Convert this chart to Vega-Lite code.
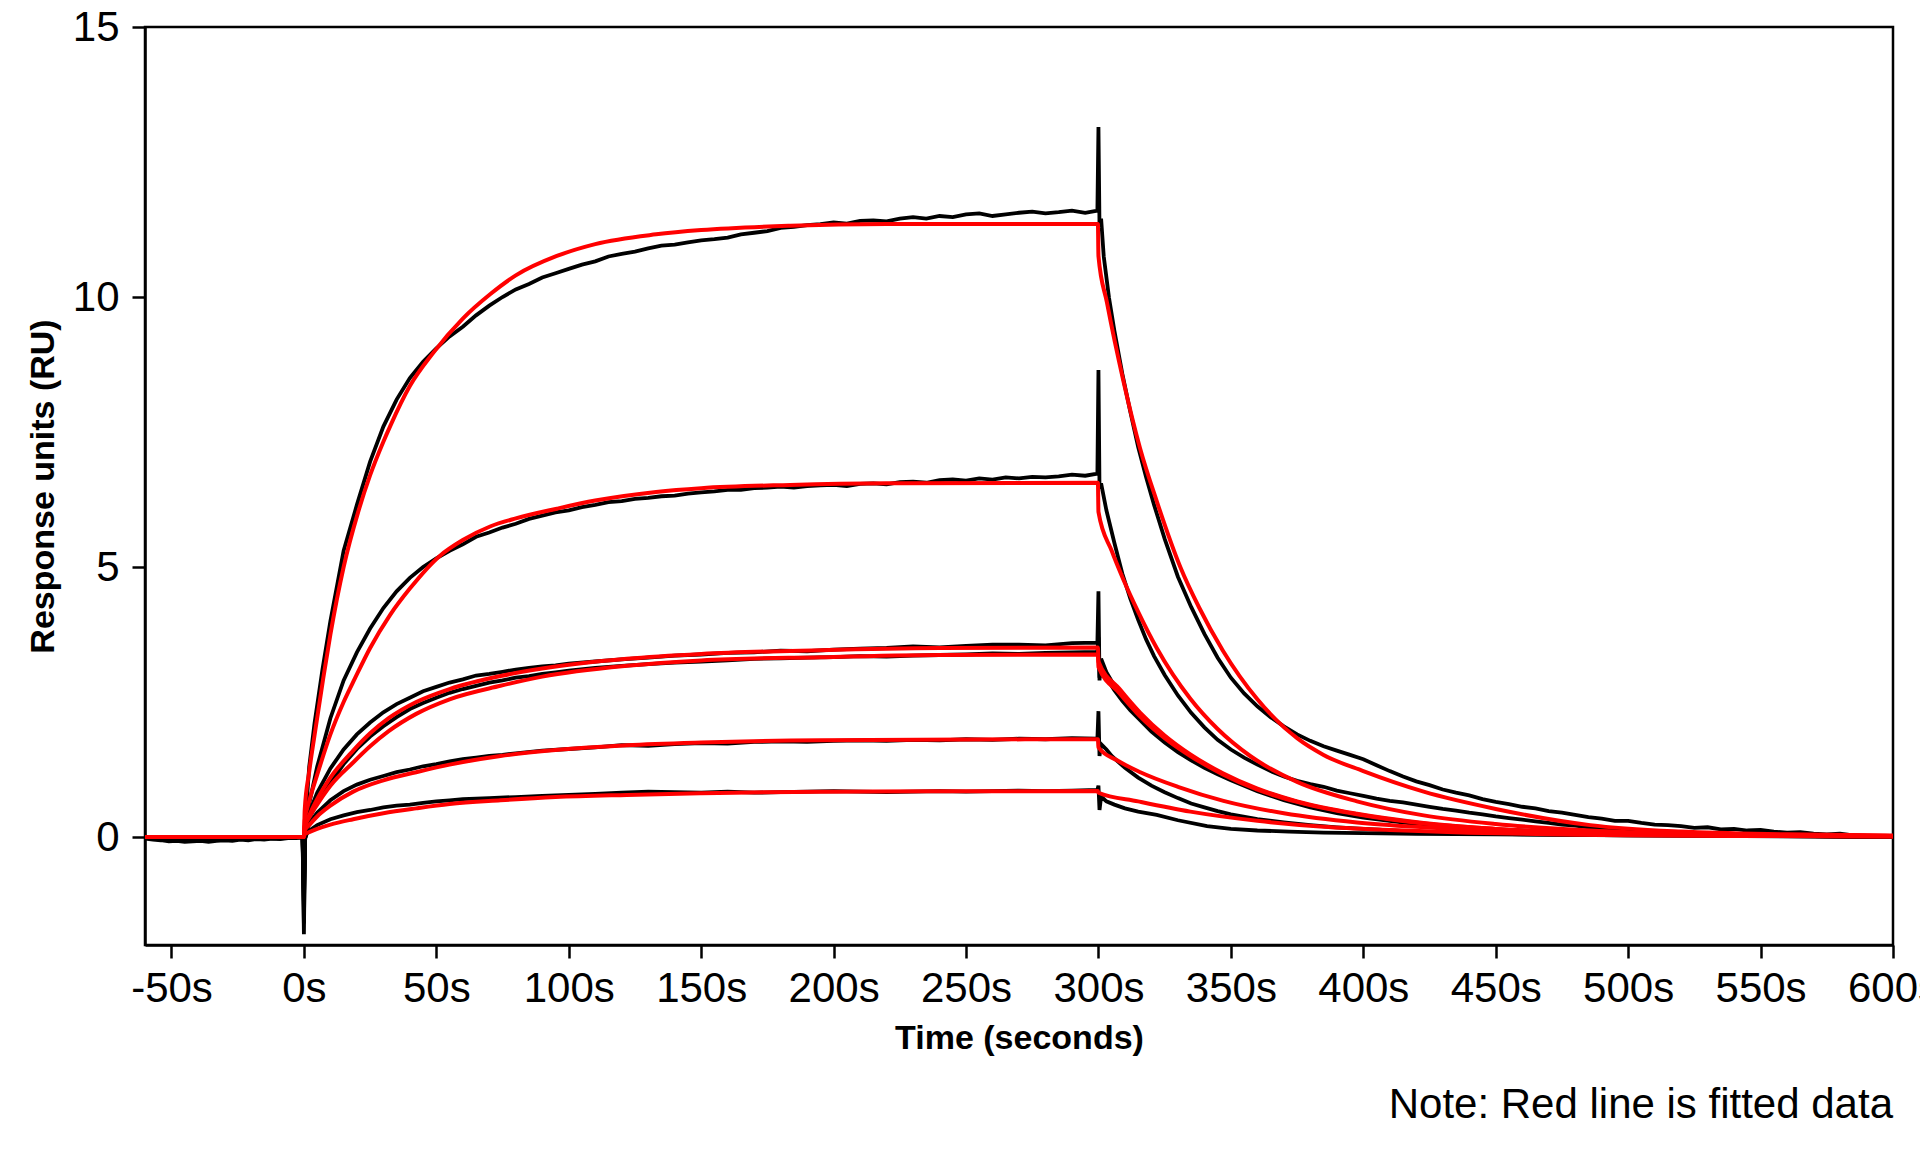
{
  "$schema": "https://vega.github.io/schema/vega-lite/v6.json",
  "width": 1748,
  "height": 918,
  "autosize": {"type": "none"},
  "padding": {"left": 145, "top": 27, "right": 27, "bottom": 207},
  "background": "white",
  "title": {
    "text": "Note: Red line is fitted data",
    "orient": "bottom",
    "anchor": "end",
    "frame": "group",
    "font": "Liberation Sans",
    "fontSize": 42,
    "fontWeight": "normal",
    "color": "black",
    "offset": 30
  },
  "datasets": {
    "obs": [
      {"c":"A","t":-60,"v":-0.03},{"c":"A","t":-57,"v":-0.05},{"c":"A","t":-54,"v":-0.06},{"c":"A","t":-51,"v":-0.08},{"c":"A","t":-48,"v":-0.07},{"c":"A","t":-45,"v":-0.09},{"c":"A","t":-42,"v":-0.08},{"c":"A","t":-39,"v":-0.07},{"c":"A","t":-36,"v":-0.09},{"c":"A","t":-33,"v":-0.07},{"c":"A","t":-30,"v":-0.06},{"c":"A","t":-27,"v":-0.07},{"c":"A","t":-24,"v":-0.05},{"c":"A","t":-21,"v":-0.06},{"c":"A","t":-18,"v":-0.04},{"c":"A","t":-15,"v":-0.05},{"c":"A","t":-12,"v":-0.03},{"c":"A","t":-9,"v":-0.04},{"c":"A","t":-6,"v":-0.02},{"c":"A","t":-3,"v":-0.02},{"c":"A","t":-0.5,"v":-0.01},{"c":"A","t":0,"v":-1.8},{"c":"A","t":0.4,"v":-0.1},{"c":"A","t":1,"v":0.6},{"c":"A","t":2,"v":1.3},{"c":"A","t":4,"v":2.1},{"c":"A","t":7,"v":3.1},{"c":"A","t":10,"v":4.0},{"c":"A","t":15,"v":5.3},{"c":"A","t":20,"v":6.15},{"c":"A","t":25,"v":6.95},{"c":"A","t":30,"v":7.6},{"c":"A","t":35,"v":8.1},{"c":"A","t":40,"v":8.5},{"c":"A","t":45,"v":8.8},{"c":"A","t":50,"v":9.05},{"c":"A","t":55,"v":9.27},{"c":"A","t":60,"v":9.45},{"c":"A","t":65,"v":9.66},{"c":"A","t":70,"v":9.84},{"c":"A","t":75,"v":10.0},{"c":"A","t":80,"v":10.14},{"c":"A","t":85,"v":10.24},{"c":"A","t":90,"v":10.36},{"c":"A","t":95,"v":10.44},{"c":"A","t":100,"v":10.52},{"c":"A","t":105,"v":10.6},{"c":"A","t":110,"v":10.66},{"c":"A","t":115,"v":10.75},{"c":"A","t":120,"v":10.8},{"c":"A","t":125,"v":10.84},{"c":"A","t":130,"v":10.9},{"c":"A","t":135,"v":10.95},{"c":"A","t":140,"v":10.97},{"c":"A","t":145,"v":11.01},{"c":"A","t":150,"v":11.05},{"c":"A","t":155,"v":11.07},{"c":"A","t":160,"v":11.1},{"c":"A","t":165,"v":11.16},{"c":"A","t":170,"v":11.19},{"c":"A","t":175,"v":11.22},{"c":"A","t":180,"v":11.28},{"c":"A","t":185,"v":11.3},{"c":"A","t":190,"v":11.33},{"c":"A","t":195,"v":11.35},{"c":"A","t":200,"v":11.38},{"c":"A","t":205,"v":11.36},{"c":"A","t":210,"v":11.41},{"c":"A","t":215,"v":11.42},{"c":"A","t":220,"v":11.4},{"c":"A","t":225,"v":11.45},{"c":"A","t":230,"v":11.48},{"c":"A","t":235,"v":11.45},{"c":"A","t":240,"v":11.5},{"c":"A","t":245,"v":11.48},{"c":"A","t":250,"v":11.53},{"c":"A","t":255,"v":11.55},{"c":"A","t":260,"v":11.5},{"c":"A","t":265,"v":11.53},{"c":"A","t":270,"v":11.56},{"c":"A","t":275,"v":11.58},{"c":"A","t":280,"v":11.55},{"c":"A","t":285,"v":11.57},{"c":"A","t":290,"v":11.6},{"c":"A","t":295,"v":11.56},{"c":"A","t":299.6,"v":11.6},{"c":"A","t":300,"v":13.15},{"c":"A","t":300.4,"v":11.3},{"c":"A","t":301,"v":11.45},{"c":"A","t":302,"v":10.75},{"c":"A","t":304,"v":9.98},{"c":"A","t":306,"v":9.38},{"c":"A","t":309,"v":8.58},{"c":"A","t":312,"v":7.88},{"c":"A","t":315,"v":7.22},{"c":"A","t":318,"v":6.66},{"c":"A","t":321,"v":6.15},{"c":"A","t":325,"v":5.52},{"c":"A","t":330,"v":4.82},{"c":"A","t":335,"v":4.26},{"c":"A","t":340,"v":3.76},{"c":"A","t":345,"v":3.32},{"c":"A","t":350,"v":2.95},{"c":"A","t":355,"v":2.66},{"c":"A","t":360,"v":2.42},{"c":"A","t":365,"v":2.22},{"c":"A","t":370,"v":2.05},{"c":"A","t":375,"v":1.9},{"c":"A","t":380,"v":1.78},{"c":"A","t":385,"v":1.68},{"c":"A","t":390,"v":1.6},{"c":"A","t":395,"v":1.52},{"c":"A","t":400,"v":1.44},{"c":"A","t":405,"v":1.33},{"c":"A","t":410,"v":1.22},{"c":"A","t":415,"v":1.12},{"c":"A","t":420,"v":1.03},{"c":"A","t":425,"v":0.96},{"c":"A","t":430,"v":0.88},{"c":"A","t":435,"v":0.82},{"c":"A","t":440,"v":0.77},{"c":"A","t":445,"v":0.7},{"c":"A","t":450,"v":0.65},{"c":"A","t":455,"v":0.61},{"c":"A","t":460,"v":0.56},{"c":"A","t":465,"v":0.53},{"c":"A","t":470,"v":0.48},{"c":"A","t":475,"v":0.45},{"c":"A","t":480,"v":0.41},{"c":"A","t":485,"v":0.37},{"c":"A","t":490,"v":0.34},{"c":"A","t":495,"v":0.3},{"c":"A","t":500,"v":0.3},{"c":"A","t":505,"v":0.26},{"c":"A","t":510,"v":0.23},{"c":"A","t":515,"v":0.22},{"c":"A","t":520,"v":0.2},{"c":"A","t":525,"v":0.17},{"c":"A","t":530,"v":0.18},{"c":"A","t":535,"v":0.14},{"c":"A","t":540,"v":0.15},{"c":"A","t":545,"v":0.12},{"c":"A","t":550,"v":0.13},{"c":"A","t":555,"v":0.1},{"c":"A","t":560,"v":0.08},{"c":"A","t":565,"v":0.09},{"c":"A","t":570,"v":0.06},{"c":"A","t":575,"v":0.05},{"c":"A","t":580,"v":0.06},{"c":"A","t":585,"v":0.03},{"c":"A","t":590,"v":0.02},{"c":"A","t":595,"v":0.02},{"c":"A","t":600,"v":0.0},

      {"c":"B","t":-60,"v":-0.01},{"c":"B","t":-55,"v":-0.03},{"c":"B","t":-50,"v":-0.05},{"c":"B","t":-45,"v":-0.04},{"c":"B","t":-40,"v":-0.06},{"c":"B","t":-35,"v":-0.04},{"c":"B","t":-30,"v":-0.05},{"c":"B","t":-25,"v":-0.03},{"c":"B","t":-20,"v":-0.04},{"c":"B","t":-15,"v":-0.02},{"c":"B","t":-10,"v":-0.03},{"c":"B","t":-5,"v":-0.01},{"c":"B","t":-0.5,"v":0.0},{"c":"B","t":0,"v":-1.6},{"c":"B","t":0.4,"v":-0.1},{"c":"B","t":1,"v":0.3},{"c":"B","t":2,"v":0.62},{"c":"B","t":5,"v":1.3},{"c":"B","t":10,"v":2.2},{"c":"B","t":15,"v":2.9},{"c":"B","t":20,"v":3.42},{"c":"B","t":25,"v":3.86},{"c":"B","t":30,"v":4.24},{"c":"B","t":35,"v":4.55},{"c":"B","t":40,"v":4.8},{"c":"B","t":45,"v":5.0},{"c":"B","t":50,"v":5.16},{"c":"B","t":55,"v":5.3},{"c":"B","t":60,"v":5.42},{"c":"B","t":65,"v":5.56},{"c":"B","t":70,"v":5.64},{"c":"B","t":75,"v":5.73},{"c":"B","t":80,"v":5.8},{"c":"B","t":85,"v":5.89},{"c":"B","t":90,"v":5.95},{"c":"B","t":95,"v":6.01},{"c":"B","t":100,"v":6.05},{"c":"B","t":105,"v":6.11},{"c":"B","t":110,"v":6.15},{"c":"B","t":115,"v":6.2},{"c":"B","t":120,"v":6.22},{"c":"B","t":125,"v":6.26},{"c":"B","t":130,"v":6.28},{"c":"B","t":135,"v":6.31},{"c":"B","t":140,"v":6.32},{"c":"B","t":145,"v":6.36},{"c":"B","t":150,"v":6.38},{"c":"B","t":155,"v":6.4},{"c":"B","t":160,"v":6.43},{"c":"B","t":165,"v":6.43},{"c":"B","t":170,"v":6.46},{"c":"B","t":175,"v":6.47},{"c":"B","t":180,"v":6.49},{"c":"B","t":185,"v":6.47},{"c":"B","t":190,"v":6.5},{"c":"B","t":195,"v":6.51},{"c":"B","t":200,"v":6.52},{"c":"B","t":205,"v":6.5},{"c":"B","t":210,"v":6.54},{"c":"B","t":215,"v":6.55},{"c":"B","t":220,"v":6.53},{"c":"B","t":225,"v":6.57},{"c":"B","t":230,"v":6.58},{"c":"B","t":235,"v":6.56},{"c":"B","t":240,"v":6.61},{"c":"B","t":245,"v":6.62},{"c":"B","t":250,"v":6.6},{"c":"B","t":255,"v":6.64},{"c":"B","t":260,"v":6.62},{"c":"B","t":265,"v":6.66},{"c":"B","t":270,"v":6.64},{"c":"B","t":275,"v":6.67},{"c":"B","t":280,"v":6.66},{"c":"B","t":285,"v":6.68},{"c":"B","t":290,"v":6.71},{"c":"B","t":295,"v":6.69},{"c":"B","t":299.6,"v":6.73},{"c":"B","t":300,"v":8.65},{"c":"B","t":300.4,"v":6.45},{"c":"B","t":301,"v":6.55},{"c":"B","t":303,"v":6.05},{"c":"B","t":306,"v":5.45},{"c":"B","t":309,"v":4.88},{"c":"B","t":312,"v":4.42},{"c":"B","t":315,"v":4.02},{"c":"B","t":318,"v":3.66},{"c":"B","t":321,"v":3.35},{"c":"B","t":325,"v":3.0},{"c":"B","t":330,"v":2.62},{"c":"B","t":335,"v":2.3},{"c":"B","t":340,"v":2.03},{"c":"B","t":345,"v":1.8},{"c":"B","t":350,"v":1.62},{"c":"B","t":355,"v":1.47},{"c":"B","t":360,"v":1.34},{"c":"B","t":365,"v":1.22},{"c":"B","t":370,"v":1.12},{"c":"B","t":375,"v":1.04},{"c":"B","t":380,"v":0.98},{"c":"B","t":385,"v":0.93},{"c":"B","t":390,"v":0.86},{"c":"B","t":395,"v":0.81},{"c":"B","t":400,"v":0.76},{"c":"B","t":405,"v":0.71},{"c":"B","t":410,"v":0.67},{"c":"B","t":415,"v":0.64},{"c":"B","t":420,"v":0.6},{"c":"B","t":425,"v":0.56},{"c":"B","t":430,"v":0.52},{"c":"B","t":435,"v":0.49},{"c":"B","t":440,"v":0.45},{"c":"B","t":445,"v":0.42},{"c":"B","t":450,"v":0.38},{"c":"B","t":455,"v":0.35},{"c":"B","t":460,"v":0.32},{"c":"B","t":465,"v":0.29},{"c":"B","t":470,"v":0.26},{"c":"B","t":475,"v":0.23},{"c":"B","t":480,"v":0.21},{"c":"B","t":485,"v":0.18},{"c":"B","t":490,"v":0.16},{"c":"B","t":500,"v":0.13},{"c":"B","t":510,"v":0.1},{"c":"B","t":520,"v":0.09},{"c":"B","t":530,"v":0.06},{"c":"B","t":540,"v":0.05},{"c":"B","t":550,"v":0.05},{"c":"B","t":560,"v":0.03},{"c":"B","t":570,"v":0.03},{"c":"B","t":580,"v":0.02},{"c":"B","t":590,"v":0.01},{"c":"B","t":600,"v":0.0},

      {"c":"C","t":-0.5,"v":0.0},{"c":"C","t":0,"v":-1.3},{"c":"C","t":0.4,"v":-0.05},{"c":"C","t":1,"v":0.2},{"c":"C","t":2,"v":0.45},{"c":"C","t":5,"v":0.82},{"c":"C","t":10,"v":1.27},{"c":"C","t":15,"v":1.62},{"c":"C","t":20,"v":1.9},{"c":"C","t":25,"v":2.12},{"c":"C","t":30,"v":2.31},{"c":"C","t":35,"v":2.46},{"c":"C","t":40,"v":2.58},{"c":"C","t":45,"v":2.7},{"c":"C","t":50,"v":2.78},{"c":"C","t":55,"v":2.86},{"c":"C","t":60,"v":2.92},{"c":"C","t":65,"v":2.99},{"c":"C","t":70,"v":3.02},{"c":"C","t":75,"v":3.06},{"c":"C","t":80,"v":3.1},{"c":"C","t":85,"v":3.13},{"c":"C","t":90,"v":3.16},{"c":"C","t":95,"v":3.18},{"c":"C","t":100,"v":3.21},{"c":"C","t":110,"v":3.25},{"c":"C","t":120,"v":3.29},{"c":"C","t":130,"v":3.32},{"c":"C","t":140,"v":3.36},{"c":"C","t":150,"v":3.38},{"c":"C","t":160,"v":3.41},{"c":"C","t":170,"v":3.42},{"c":"C","t":180,"v":3.45},{"c":"C","t":190,"v":3.44},{"c":"C","t":200,"v":3.47},{"c":"C","t":210,"v":3.49},{"c":"C","t":220,"v":3.5},{"c":"C","t":230,"v":3.53},{"c":"C","t":240,"v":3.51},{"c":"C","t":250,"v":3.54},{"c":"C","t":260,"v":3.56},{"c":"C","t":270,"v":3.56},{"c":"C","t":280,"v":3.55},{"c":"C","t":290,"v":3.59},{"c":"C","t":299.6,"v":3.6},{"c":"C","t":300,"v":4.55},{"c":"C","t":300.4,"v":2.9},{"c":"C","t":301,"v":3.3},{"c":"C","t":303,"v":3.05},{"c":"C","t":306,"v":2.8},{"c":"C","t":309,"v":2.6},{"c":"C","t":312,"v":2.42},{"c":"C","t":315,"v":2.27},{"c":"C","t":320,"v":2.0},{"c":"C","t":325,"v":1.8},{"c":"C","t":330,"v":1.62},{"c":"C","t":335,"v":1.47},{"c":"C","t":340,"v":1.33},{"c":"C","t":345,"v":1.2},{"c":"C","t":350,"v":1.08},{"c":"C","t":355,"v":0.98},{"c":"C","t":360,"v":0.88},{"c":"C","t":370,"v":0.72},{"c":"C","t":380,"v":0.58},{"c":"C","t":390,"v":0.47},{"c":"C","t":400,"v":0.38},{"c":"C","t":410,"v":0.31},{"c":"C","t":420,"v":0.26},{"c":"C","t":430,"v":0.21},{"c":"C","t":440,"v":0.17},{"c":"C","t":450,"v":0.14},{"c":"C","t":460,"v":0.12},{"c":"C","t":470,"v":0.1},{"c":"C","t":480,"v":0.08},{"c":"C","t":500,"v":0.06},{"c":"C","t":520,"v":0.05},{"c":"C","t":540,"v":0.03},{"c":"C","t":560,"v":0.02},{"c":"C","t":580,"v":0.01},{"c":"C","t":600,"v":0.0},

      {"c":"D","t":-0.5,"v":0.0},{"c":"D","t":0,"v":-1.2},{"c":"D","t":0.4,"v":-0.05},{"c":"D","t":1,"v":0.15},{"c":"D","t":2,"v":0.35},{"c":"D","t":5,"v":0.63},{"c":"D","t":10,"v":1.0},{"c":"D","t":15,"v":1.35},{"c":"D","t":20,"v":1.63},{"c":"D","t":25,"v":1.86},{"c":"D","t":30,"v":2.05},{"c":"D","t":35,"v":2.22},{"c":"D","t":40,"v":2.37},{"c":"D","t":45,"v":2.48},{"c":"D","t":50,"v":2.58},{"c":"D","t":55,"v":2.67},{"c":"D","t":60,"v":2.74},{"c":"D","t":65,"v":2.8},{"c":"D","t":70,"v":2.86},{"c":"D","t":75,"v":2.9},{"c":"D","t":80,"v":2.95},{"c":"D","t":85,"v":2.98},{"c":"D","t":90,"v":3.02},{"c":"D","t":95,"v":3.05},{"c":"D","t":100,"v":3.08},{"c":"D","t":110,"v":3.13},{"c":"D","t":120,"v":3.17},{"c":"D","t":130,"v":3.2},{"c":"D","t":140,"v":3.23},{"c":"D","t":150,"v":3.25},{"c":"D","t":160,"v":3.27},{"c":"D","t":170,"v":3.3},{"c":"D","t":180,"v":3.31},{"c":"D","t":190,"v":3.32},{"c":"D","t":200,"v":3.33},{"c":"D","t":210,"v":3.35},{"c":"D","t":220,"v":3.34},{"c":"D","t":230,"v":3.36},{"c":"D","t":240,"v":3.37},{"c":"D","t":250,"v":3.38},{"c":"D","t":260,"v":3.4},{"c":"D","t":270,"v":3.39},{"c":"D","t":280,"v":3.41},{"c":"D","t":290,"v":3.42},{"c":"D","t":299.6,"v":3.43},{"c":"D","t":300,"v":3.7},{"c":"D","t":300.4,"v":2.95},{"c":"D","t":301,"v":3.15},{"c":"D","t":303,"v":2.95},{"c":"D","t":306,"v":2.72},{"c":"D","t":309,"v":2.52},{"c":"D","t":312,"v":2.35},{"c":"D","t":315,"v":2.2},{"c":"D","t":320,"v":1.95},{"c":"D","t":325,"v":1.75},{"c":"D","t":330,"v":1.57},{"c":"D","t":335,"v":1.42},{"c":"D","t":340,"v":1.28},{"c":"D","t":345,"v":1.16},{"c":"D","t":350,"v":1.05},{"c":"D","t":355,"v":0.95},{"c":"D","t":360,"v":0.85},{"c":"D","t":370,"v":0.68},{"c":"D","t":380,"v":0.55},{"c":"D","t":390,"v":0.44},{"c":"D","t":400,"v":0.36},{"c":"D","t":410,"v":0.3},{"c":"D","t":420,"v":0.24},{"c":"D","t":430,"v":0.2},{"c":"D","t":440,"v":0.16},{"c":"D","t":450,"v":0.13},{"c":"D","t":460,"v":0.11},{"c":"D","t":470,"v":0.09},{"c":"D","t":480,"v":0.07},{"c":"D","t":500,"v":0.05},{"c":"D","t":520,"v":0.04},{"c":"D","t":540,"v":0.03},{"c":"D","t":560,"v":0.02},{"c":"D","t":580,"v":0.01},{"c":"D","t":600,"v":0.0},

      {"c":"E","t":-0.5,"v":0.0},{"c":"E","t":0,"v":-1.0},{"c":"E","t":0.4,"v":-0.03},{"c":"E","t":1,"v":0.1},{"c":"E","t":2,"v":0.25},{"c":"E","t":5,"v":0.45},{"c":"E","t":10,"v":0.68},{"c":"E","t":15,"v":0.85},{"c":"E","t":20,"v":0.97},{"c":"E","t":25,"v":1.06},{"c":"E","t":30,"v":1.13},{"c":"E","t":35,"v":1.2},{"c":"E","t":40,"v":1.25},{"c":"E","t":45,"v":1.31},{"c":"E","t":50,"v":1.35},{"c":"E","t":55,"v":1.4},{"c":"E","t":60,"v":1.44},{"c":"E","t":65,"v":1.47},{"c":"E","t":70,"v":1.5},{"c":"E","t":75,"v":1.52},{"c":"E","t":80,"v":1.55},{"c":"E","t":90,"v":1.6},{"c":"E","t":100,"v":1.63},{"c":"E","t":110,"v":1.66},{"c":"E","t":120,"v":1.7},{"c":"E","t":130,"v":1.69},{"c":"E","t":140,"v":1.72},{"c":"E","t":150,"v":1.74},{"c":"E","t":160,"v":1.73},{"c":"E","t":170,"v":1.76},{"c":"E","t":180,"v":1.77},{"c":"E","t":190,"v":1.76},{"c":"E","t":200,"v":1.78},{"c":"E","t":210,"v":1.79},{"c":"E","t":220,"v":1.78},{"c":"E","t":230,"v":1.8},{"c":"E","t":240,"v":1.79},{"c":"E","t":250,"v":1.81},{"c":"E","t":260,"v":1.8},{"c":"E","t":270,"v":1.82},{"c":"E","t":280,"v":1.81},{"c":"E","t":290,"v":1.83},{"c":"E","t":299.6,"v":1.82},{"c":"E","t":300,"v":2.33},{"c":"E","t":300.4,"v":1.5},{"c":"E","t":301,"v":1.72},{"c":"E","t":303,"v":1.62},{"c":"E","t":305,"v":1.5},{"c":"E","t":310,"v":1.28},{"c":"E","t":315,"v":1.1},{"c":"E","t":320,"v":0.95},{"c":"E","t":325,"v":0.83},{"c":"E","t":330,"v":0.72},{"c":"E","t":335,"v":0.62},{"c":"E","t":340,"v":0.55},{"c":"E","t":345,"v":0.48},{"c":"E","t":350,"v":0.42},{"c":"E","t":360,"v":0.33},{"c":"E","t":370,"v":0.27},{"c":"E","t":380,"v":0.22},{"c":"E","t":390,"v":0.18},{"c":"E","t":400,"v":0.15},{"c":"E","t":420,"v":0.1},{"c":"E","t":440,"v":0.07},{"c":"E","t":460,"v":0.05},{"c":"E","t":480,"v":0.04},{"c":"E","t":500,"v":0.03},{"c":"E","t":530,"v":0.02},{"c":"E","t":560,"v":0.01},{"c":"E","t":600,"v":0.0},

      {"c":"F","t":-0.5,"v":0.0},{"c":"F","t":0,"v":-0.8},{"c":"F","t":0.4,"v":-0.02},{"c":"F","t":1,"v":0.05},{"c":"F","t":2,"v":0.12},{"c":"F","t":5,"v":0.22},{"c":"F","t":10,"v":0.33},{"c":"F","t":15,"v":0.4},{"c":"F","t":20,"v":0.46},{"c":"F","t":25,"v":0.5},{"c":"F","t":30,"v":0.55},{"c":"F","t":35,"v":0.58},{"c":"F","t":40,"v":0.6},{"c":"F","t":45,"v":0.63},{"c":"F","t":50,"v":0.66},{"c":"F","t":55,"v":0.68},{"c":"F","t":60,"v":0.7},{"c":"F","t":70,"v":0.72},{"c":"F","t":80,"v":0.74},{"c":"F","t":90,"v":0.76},{"c":"F","t":100,"v":0.78},{"c":"F","t":110,"v":0.8},{"c":"F","t":120,"v":0.82},{"c":"F","t":130,"v":0.84},{"c":"F","t":140,"v":0.83},{"c":"F","t":150,"v":0.82},{"c":"F","t":160,"v":0.84},{"c":"F","t":170,"v":0.82},{"c":"F","t":180,"v":0.83},{"c":"F","t":190,"v":0.84},{"c":"F","t":200,"v":0.85},{"c":"F","t":210,"v":0.84},{"c":"F","t":220,"v":0.83},{"c":"F","t":230,"v":0.84},{"c":"F","t":240,"v":0.85},{"c":"F","t":250,"v":0.84},{"c":"F","t":260,"v":0.85},{"c":"F","t":270,"v":0.86},{"c":"F","t":280,"v":0.85},{"c":"F","t":290,"v":0.86},{"c":"F","t":299.6,"v":0.87},{"c":"F","t":300,"v":0.95},{"c":"F","t":300.4,"v":0.5},{"c":"F","t":301,"v":0.75},{"c":"F","t":303,"v":0.66},{"c":"F","t":306,"v":0.6},{"c":"F","t":310,"v":0.53},{"c":"F","t":315,"v":0.47},{"c":"F","t":322,"v":0.41},{"c":"F","t":330,"v":0.31},{"c":"F","t":341,"v":0.2},{"c":"F","t":350,"v":0.15},{"c":"F","t":360,"v":0.12},{"c":"F","t":372,"v":0.1},{"c":"F","t":385,"v":0.08},{"c":"F","t":400,"v":0.07},{"c":"F","t":420,"v":0.06},{"c":"F","t":450,"v":0.05},{"c":"F","t":500,"v":0.03},{"c":"F","t":550,"v":0.02},{"c":"F","t":600,"v":0.0}
    ],
    "fit": [
      {"c":"A","t":-60,"v":0},{"c":"A","t":0,"v":0},{"c":"A","t":0.3,"v":0.5},{"c":"A","t":2,"v":1.21},{"c":"A","t":4,"v":1.88},{"c":"A","t":7.3,"v":2.94},{"c":"A","t":10,"v":3.75},{"c":"A","t":15,"v":5.0},{"c":"A","t":20.5,"v":6.02},{"c":"A","t":25,"v":6.7},{"c":"A","t":30,"v":7.32},{"c":"A","t":32.5,"v":7.6},{"c":"A","t":40,"v":8.35},{"c":"A","t":48.9,"v":8.97},{"c":"A","t":60,"v":9.6},{"c":"A","t":70.3,"v":10.05},{"c":"A","t":80,"v":10.4},{"c":"A","t":95.5,"v":10.76},{"c":"A","t":110,"v":10.98},{"c":"A","t":133,"v":11.16},{"c":"A","t":150,"v":11.24},{"c":"A","t":183.6,"v":11.32},{"c":"A","t":220,"v":11.35},{"c":"A","t":299.8,"v":11.35},{"c":"A","t":300,"v":10.76},{"c":"A","t":303.2,"v":9.9},{"c":"A","t":309.4,"v":8.45},{"c":"A","t":315.7,"v":7.2},{"c":"A","t":322,"v":6.22},{"c":"A","t":330.9,"v":5.0},{"c":"A","t":338,"v":4.25},{"c":"A","t":347,"v":3.45},{"c":"A","t":360,"v":2.55},{"c":"A","t":375,"v":1.83},{"c":"A","t":385,"v":1.52},{"c":"A","t":400,"v":1.22},{"c":"A","t":422.8,"v":0.84},{"c":"A","t":450,"v":0.52},{"c":"A","t":485.7,"v":0.22},{"c":"A","t":520,"v":0.1},{"c":"A","t":560,"v":0.05},{"c":"A","t":600,"v":0.03},

      {"c":"B","t":0,"v":0},{"c":"B","t":0.3,"v":0.3},{"c":"B","t":2,"v":0.66},{"c":"B","t":5,"v":1.15},{"c":"B","t":10,"v":1.9},{"c":"B","t":15,"v":2.5},{"c":"B","t":19.3,"v":2.94},{"c":"B","t":25,"v":3.5},{"c":"B","t":32.5,"v":4.11},{"c":"B","t":40,"v":4.6},{"c":"B","t":51.4,"v":5.21},{"c":"B","t":60,"v":5.5},{"c":"B","t":70.3,"v":5.75},{"c":"B","t":80,"v":5.9},{"c":"B","t":95.5,"v":6.08},{"c":"B","t":110,"v":6.23},{"c":"B","t":133,"v":6.39},{"c":"B","t":150,"v":6.46},{"c":"B","t":183.6,"v":6.52},{"c":"B","t":220,"v":6.55},{"c":"B","t":299.8,"v":6.56},{"c":"B","t":300,"v":6.02},{"c":"B","t":305,"v":5.3},{"c":"B","t":309.4,"v":4.77},{"c":"B","t":315,"v":4.17},{"c":"B","t":322,"v":3.5},{"c":"B","t":334.7,"v":2.56},{"c":"B","t":345,"v":2.0},{"c":"B","t":357.3,"v":1.5},{"c":"B","t":375,"v":1.02},{"c":"B","t":397.6,"v":0.66},{"c":"B","t":422.8,"v":0.4},{"c":"B","t":450,"v":0.24},{"c":"B","t":485.7,"v":0.12},{"c":"B","t":520,"v":0.06},{"c":"B","t":560,"v":0.03},{"c":"B","t":600,"v":0.02},

      {"c":"C","t":0,"v":0},{"c":"C","t":0.3,"v":0.2},{"c":"C","t":2,"v":0.4},{"c":"C","t":5,"v":0.7},{"c":"C","t":10,"v":1.1},{"c":"C","t":18.6,"v":1.6},{"c":"C","t":25,"v":1.92},{"c":"C","t":32,"v":2.2},{"c":"C","t":42.4,"v":2.5},{"c":"C","t":55,"v":2.74},{"c":"C","t":74.2,"v":2.98},{"c":"C","t":90,"v":3.12},{"c":"C","t":121.9,"v":3.3},{"c":"C","t":150,"v":3.39},{"c":"C","t":195,"v":3.46},{"c":"C","t":240,"v":3.5},{"c":"C","t":299.8,"v":3.51},{"c":"C","t":300,"v":3.25},{"c":"C","t":308,"v":2.74},{"c":"C","t":315.8,"v":2.3},{"c":"C","t":325,"v":1.88},{"c":"C","t":334.7,"v":1.53},{"c":"C","t":347,"v":1.18},{"c":"C","t":359.8,"v":0.9},{"c":"C","t":375,"v":0.66},{"c":"C","t":397.6,"v":0.43},{"c":"C","t":422.8,"v":0.26},{"c":"C","t":450,"v":0.15},{"c":"C","t":485.7,"v":0.08},{"c":"C","t":530,"v":0.04},{"c":"C","t":600,"v":0.02},

      {"c":"D","t":0,"v":0},{"c":"D","t":0.3,"v":0.18},{"c":"D","t":2,"v":0.36},{"c":"D","t":5,"v":0.6},{"c":"D","t":10,"v":0.95},{"c":"D","t":18.6,"v":1.38},{"c":"D","t":25,"v":1.68},{"c":"D","t":32,"v":1.96},{"c":"D","t":42.4,"v":2.28},{"c":"D","t":55,"v":2.55},{"c":"D","t":74.2,"v":2.8},{"c":"D","t":90,"v":2.97},{"c":"D","t":121.9,"v":3.17},{"c":"D","t":150,"v":3.27},{"c":"D","t":195,"v":3.33},{"c":"D","t":240,"v":3.37},{"c":"D","t":299.8,"v":3.38},{"c":"D","t":300,"v":3.15},{"c":"D","t":308,"v":2.66},{"c":"D","t":315.8,"v":2.23},{"c":"D","t":325,"v":1.83},{"c":"D","t":334.7,"v":1.5},{"c":"D","t":347,"v":1.16},{"c":"D","t":359.8,"v":0.88},{"c":"D","t":375,"v":0.65},{"c":"D","t":397.6,"v":0.42},{"c":"D","t":422.8,"v":0.25},{"c":"D","t":450,"v":0.15},{"c":"D","t":485.7,"v":0.07},{"c":"D","t":530,"v":0.04},{"c":"D","t":600,"v":0.02},

      {"c":"E","t":0,"v":0},{"c":"E","t":0.3,"v":0.12},{"c":"E","t":2,"v":0.22},{"c":"E","t":5,"v":0.38},{"c":"E","t":10,"v":0.58},{"c":"E","t":18.6,"v":0.84},{"c":"E","t":30,"v":1.05},{"c":"E","t":42.4,"v":1.2},{"c":"E","t":55,"v":1.34},{"c":"E","t":74.2,"v":1.5},{"c":"E","t":95,"v":1.61},{"c":"E","t":121.9,"v":1.7},{"c":"E","t":150,"v":1.75},{"c":"E","t":195,"v":1.79},{"c":"E","t":299.8,"v":1.81},{"c":"E","t":300,"v":1.66},{"c":"E","t":307,"v":1.42},{"c":"E","t":315.8,"v":1.2},{"c":"E","t":330,"v":0.93},{"c":"E","t":347.2,"v":0.67},{"c":"E","t":370,"v":0.44},{"c":"E","t":397.6,"v":0.27},{"c":"E","t":422.8,"v":0.18},{"c":"E","t":450,"v":0.11},{"c":"E","t":485,"v":0.06},{"c":"E","t":540,"v":0.03},{"c":"E","t":600,"v":0.01},

      {"c":"F","t":0,"v":0},{"c":"F","t":0.3,"v":0.05},{"c":"F","t":2,"v":0.09},{"c":"F","t":5,"v":0.15},{"c":"F","t":10,"v":0.23},{"c":"F","t":18.6,"v":0.33},{"c":"F","t":30,"v":0.44},{"c":"F","t":42.4,"v":0.53},{"c":"F","t":55,"v":0.61},{"c":"F","t":74.2,"v":0.68},{"c":"F","t":95,"v":0.74},{"c":"F","t":121.9,"v":0.78},{"c":"F","t":150,"v":0.81},{"c":"F","t":195,"v":0.84},{"c":"F","t":299.8,"v":0.85},{"c":"F","t":300,"v":0.82},{"c":"F","t":315,"v":0.66},{"c":"F","t":334.7,"v":0.47},{"c":"F","t":360,"v":0.3},{"c":"F","t":385,"v":0.19},{"c":"F","t":410,"v":0.13},{"c":"F","t":440,"v":0.08},{"c":"F","t":480,"v":0.04},{"c":"F","t":540,"v":0.02},{"c":"F","t":600,"v":0.01}
    ]
  },
  "encoding": {
    "x": {
      "field": "t",
      "type": "quantitative",
      "scale": {"domain": [-60, 600], "nice": false, "zero": false},
      "axis": {
        "title": "Time (seconds)",
        "values": [-50, 0, 50, 100, 150, 200, 250, 300, 350, 400, 450, 500, 550, 600],
        "labelExpr": "datum.value + 's'",
        "labelFlush": false,
        "labelOverlap": false,
        "grid": false
      }
    },
    "y": {
      "field": "v",
      "type": "quantitative",
      "scale": {"domain": [-2, 15], "nice": false, "zero": false},
      "axis": {
        "title": "Response units (RU)",
        "values": [0, 5, 10, 15],
        "grid": false
      }
    },
    "detail": {"field": "c", "type": "nominal"}
  },
  "layer": [
    {
      "data": {"name": "obs"},
      "mark": {"type": "line", "color": "black", "strokeWidth": 3.8, "clip": true}
    },
    {
      "data": {"name": "fit"},
      "mark": {"type": "line", "color": "#ff0000", "strokeWidth": 4, "interpolate": "monotone", "clip": true}
    }
  ],
  "config": {
    "view": {"stroke": "black", "strokeWidth": 2.5},
    "axis": {
      "domainColor": "black",
      "domainWidth": 2.5,
      "tickColor": "black",
      "tickWidth": 2.5,
      "tickSize": 13,
      "labelFont": "Liberation Sans",
      "labelFontSize": 42,
      "labelColor": "black",
      "labelPadding": 10,
      "titleFont": "Liberation Sans",
      "titleFontSize": 34,
      "titleFontWeight": "bold",
      "titleColor": "black",
      "titlePadding": 12
    },
    "axisY": {"labelPadding": 13, "titlePadding": 12}
  }
}
